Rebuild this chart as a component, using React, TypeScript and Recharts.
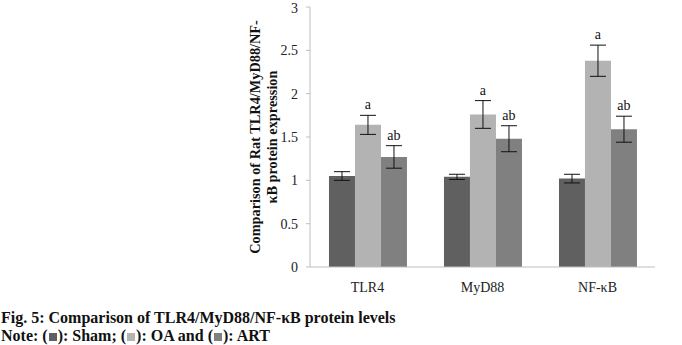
import * as React from 'react';
import { BarChart, Bar, XAxis, YAxis, ErrorBar, LabelList } from 'recharts';

const categories = ['TLR4', 'MyD88', 'NF-κB'];
const sham = [1.05, 1.04, 1.02];
const oa = [1.64, 1.76, 2.38];
const art = [1.27, 1.48, 1.59];
const shamErr = [0.05, 0.03, 0.05];
const oaErr = [0.11, 0.16, 0.18];
const artErr = [0.13, 0.15, 0.15];
const oaMarks = ['a', 'a', 'a'];
const artMarks = ['ab', 'ab', 'ab'];
const yTicks = [0, 0.5, 1, 1.5, 2, 2.5, 3];

const data = categories.map((name, i) => ({
  name,
  sham: sham[i],
  oa: oa[i],
  art: art[i],
  shamErr: shamErr[i],
  oaErr: oaErr[i],
  artErr: artErr[i],
}));

const FONT = '"Liberation Serif", "Times New Roman", serif';

function markLabel(marks: string[], errs: number[]) {
  return (props: any) => {
    const { x, y, width, height, index, value } = props;
    const pxPerUnit = height / value;
    const top = y - errs[index] * pxPerUnit;
    return (
      <text x={x + width / 2} y={top - 6} textAnchor="middle" fontFamily={FONT} fontSize={14} fill="#111">
        {marks[index]}
      </text>
    );
  };
}

function YLabel(props: any) {
  const cx = props.viewBox.x + 5;
  const cy = 137;
  return (
    <g>
      <text x={cx} y={cy} transform={`rotate(-90 ${cx} ${cy})`} textAnchor="middle" dominantBaseline="central"
        fontFamily={FONT} fontWeight="bold" fontSize={14.3} fill="#111">
        Comparison of  Rat TLR4/MyD88/NF-
      </text>
      <text x={cx + 17} y={cy} transform={`rotate(-90 ${cx + 17} ${cy})`} textAnchor="middle" dominantBaseline="central"
        fontFamily={FONT} fontWeight="bold" fontSize={14.3} fill="#111">
        κB  protein expression
      </text>
    </g>
  );
}

const Swatch = ({ color }: { color: string }) => (
  <span style={{ display: 'inline-block', width: 8, height: 8, background: color, margin: '0 1px', verticalAlign: 'middle' }} />
);

export default function App() {
  return (
    <div style={{ position: 'absolute', left: 0, top: 0, width: 682, height: 345, background: '#fff' }}>
      <BarChart width={682} height={300} data={data} margin={{ top: 7, right: 27, bottom: 7, left: 250 }}
        barCategoryGap="16.5%" barGap={0}>
        <XAxis dataKey="name" height={26} tickLine={false} axisLine={{ stroke: '#bfbfbf' }}
          tick={{ fontFamily: FONT, fontSize: 14, fill: '#222' }} tickMargin={9} />
        <XAxis xAxisId="b" type="number" domain={[0, 3]} ticks={[0, 1, 2, 3]} hide={false} height={0}
          axisLine={false} tickLine={{ stroke: '#bfbfbf' }} tickSize={5} tick={false} orientation="bottom" />
        <YAxis width={60} domain={[0, 3]} ticks={yTicks} tickSize={4} tickLine={{ stroke: '#bfbfbf' }}
          axisLine={{ stroke: '#bfbfbf' }} tick={{ fontFamily: FONT, fontSize: 14, fill: '#222' }} tickMargin={8}
          label={<YLabel />} />
        <Bar dataKey="sham" fill="#606060" isAnimationActive={false}>
          <ErrorBar dataKey="shamErr" width={8} stroke="#111" strokeWidth={1} />
        </Bar>
        <Bar dataKey="oa" fill="#b3b3b3" isAnimationActive={false}>
          <ErrorBar dataKey="oaErr" width={8} stroke="#111" strokeWidth={1} />
          <LabelList dataKey="oa" content={markLabel(oaMarks, oaErr)} />
        </Bar>
        <Bar dataKey="art" fill="#808080" isAnimationActive={false}>
          <ErrorBar dataKey="artErr" width={8} stroke="#111" strokeWidth={1} />
          <LabelList dataKey="art" content={markLabel(artMarks, artErr)} />
        </Bar>
      </BarChart>
      <div style={{ fontFamily: FONT, fontWeight: 'bold', fontSize: 16, color: '#111', lineHeight: '18px', marginTop: 9, marginLeft: 1 }}>
        <div>Fig. 5: Comparison of TLR4/MyD88/NF-κB protein levels</div>
        <div>Note: (<Swatch color="#606060" />): Sham; (<Swatch color="#b3b3b3" />): OA and (<Swatch color="#808080" />): ART</div>
      </div>
    </div>
  );
}
